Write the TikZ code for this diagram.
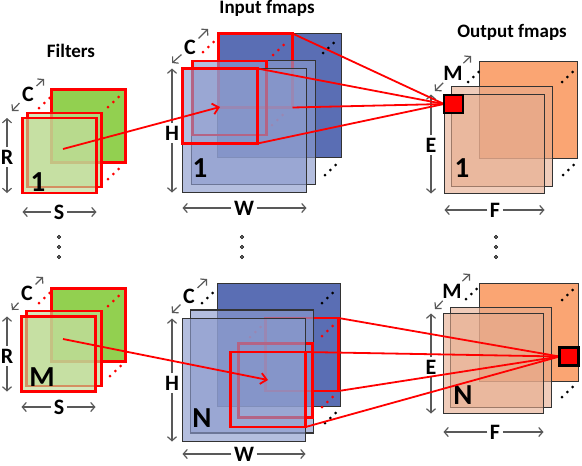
\documentclass[tikz,border=0pt]{standalone}
\usepackage{fontspec}
\setmainfont{Carlito}
\usepackage{tikz}
\usetikzlibrary{arrows.meta}
\definecolor{filtgreen}{RGB}{146,208,80}
\definecolor{filtlight}{RGB}{190,220,150}
\definecolor{inblue}{RGB}{90,110,180}
\definecolor{inlight}{RGB}{140,155,205}
\definecolor{outorange}{RGB}{250,165,115}
\definecolor{outlight}{RGB}{230,170,140}
\definecolor{dimgray}{RGB}{89,89,89}
\newcommand{\fmapdots}[3]{\foreach \k in {0,1,2} \fill[#1] (#2+5.3*\k,#3-5*\k) circle (1.5);}

\begin{document}
\begin{tikzpicture}[x=1pt, y=-1pt,
	sq/.style={inner sep=0pt, outer sep=0pt},
	filtback/.style={sq, draw=red, line width=2.2pt, fill=filtgreen},
	filt/.style={sq, draw=red, line width=2.2pt, fill=filtlight, fill opacity=0.65},
	map/.style={sq, draw=black!80, line width=1.2pt},
	redbox/.style={sq, draw=red, line width=2.2pt},
	pix/.style={sq, draw=black, line width=2.5pt, fill=red},
	conn/.style={red, line width=1.8pt},
	dim/.style={dimgray, line width=1.2pt, -{Straight Barb[length=4pt,width=9pt]}},
	dimlbl/.style={font=\fontsize{22}{22}\selectfont\bfseries, inner sep=2.5pt},
	title/.style={font=\fontsize{19}{19}\selectfont\bfseries, anchor=base},
	idx/.style={font=\fontsize{29}{29}\selectfont\bfseries},
	vdot/.style={draw=black, fill=black!55, line width=0.6pt}]
	\useasboundingbox (0,0) rectangle (582,466);
	%
	\node[title] (tFilt) at (71,57) {Filters};
	\node[title] (tIn) at (267,13.5) {Input fmaps};
	\node[title] (tOut) at (512,37) {Output fmaps};
	%
	% filters, first
	\node[filtback, minimum width=74, minimum height=73] (fBackA) at (88.5,126) {};
	\fmapdots{red}{39}{108}
	\fmapdots{red}{108}{107}
	\fmapdots{red}{108}{179}
	\node[filt, minimum width=74, minimum height=74] (fMidA) at (64.5,150) {};
	\node[filt, minimum width=74, minimum height=75] (fFrontA) at (59.5,155.5) {};
	\node[idx] (fIdxA) at (38,182) {1};
	% filters, last
	\node[filtback, minimum width=74, minimum height=73] (fBackB) at (88.5,325) {};
	\fmapdots{red}{39}{303}
	\fmapdots{red}{108}{306}
	\fmapdots{red}{110}{376}
	\node[filt, minimum width=75, minimum height=75] (fMidB) at (64,348.5) {};
	\node[filt, minimum width=74, minimum height=75] (fFrontB) at (58.5,354) {};
	\node[idx] (fIdxB) at (42,377) {M};
	%
	% input fmaps, first
	\node[map, fill=inblue, minimum size=124] (iBackA) at (279.5,95.5) {};
	\node[redbox, minimum size=74] (iRedBackA) at (255.5,70.5) {};
	\fmapdots{red}{203}{52}
	\fmapdots{red}{273}{55}
	\fmapdots{black}{323}{53}
	\fmapdots{black}{325}{175}
	\fmapdots{red}{272}{125}
	\node[map, fill=inlight, fill opacity=0.65, minimum size=124] (iMidA) at (253.5,122.5) {};
	\node[redbox, minimum size=74] (iRedMidA) at (229.5,98) {};
	\node[map, fill=inlight, fill opacity=0.65, minimum size=124] (iFrontA) at (244.5,130.5) {};
	\node[redbox, minimum size=75] (iRedFrontA) at (220,106) {};
	\node[idx] (iIdxA) at (200,168) {1};
	% input fmaps, last
	\node[map, fill=inblue, minimum size=123] (iBackB) at (279,345) {};
	\node[redbox, minimum size=73] (iRedBackB) at (302,354.5) {};
	\fmapdots{black}{202}{303}
	\fmapdots{black}{322}{303}
	\fmapdots{red}{322}{336}
	\fmapdots{red}{322}{407}
	\fmapdots{black}{325}{423}
	\fmapdots{red}{250}{337}
	\node[map, fill=inlight, fill opacity=0.65, minimum size=123] (iMidB) at (252,371.5) {};
	\node[redbox, minimum size=74] (iRedMidB) at (275.5,380.5) {};
	\node[map, fill=inlight, fill opacity=0.65, minimum size=123] (iFrontB) at (244,380) {};
	\node[redbox, minimum size=75] (iRedFrontB) at (268,389.5) {};
	\node[idx] (iIdxB) at (202,418) {N};
	%
	% output fmaps, first
	\node[map, fill=outorange, minimum width=98, minimum height=97] (oBackA) at (528.5,110) {};
	\fmapdots{black}{468}{82}
	\fmapdots{black}{562}{82}
	\fmapdots{black}{563}{175}
	\node[map, fill=outlight, fill opacity=0.6, minimum width=101, minimum height=100] (oMidA) at (502,136.5) {};
	\node[map, fill=outlight, fill opacity=0.6, minimum width=100, minimum height=99] (oFrontA) at (494.5,144) {};
	\node[idx] (oIdxA) at (462,168) {1};
	% output fmaps, last
	\node[map, fill=outorange, minimum width=99, minimum height=98] (oBackB) at (529,332.5) {};
	\fmapdots{black}{466}{299}
	\fmapdots{black}{562}{300}
	\fmapdots{black}{562}{397}
	\node[map, fill=outlight, fill opacity=0.6, minimum width=101, minimum height=100] (oMidB) at (501,357.5) {};
	\node[map, fill=outlight, fill opacity=0.6, minimum width=100, minimum height=100] (oFrontB) at (493.5,363.5) {};
	\node[idx] (oIdxB) at (463,395) {N};
	%
	% vertical dots
	\foreach \y in {237,247,257} {
		\filldraw[vdot] (59,\y) circle (1.7);
		\filldraw[vdot] (242,\y) circle (1.7);
		\filldraw[vdot] (496,\y) circle (1.7);
	}
	%
	% dimensions
	\node[dimlbl] (fCA) at (28,94) {C};
	\draw[dim] (fCA) -- ++(16,-15);
	\draw[dim] (fCA) -- ++(-16,17);
	\node[dimlbl] (fRA) at (7,157) {R};
	\draw[dim] (fRA) -- (fRA |- fFrontA.north);
	\draw[dim] (fRA) -- (fRA |- fFrontA.south);
	\node[dimlbl] (fSA) at (59,212) {S};
	\draw[dim] (fSA) -- (fSA -| fFrontA.west);
	\draw[dim] (fSA) -- (fSA -| fFrontA.east);
	%
	\node[dimlbl] (fCB) at (27,293) {C};
	\draw[dim] (fCB) -- ++(16,-16);
	\draw[dim] (fCB) -- ++(-15,17);
	\node[dimlbl] (fRB) at (7,356) {R};
	\draw[dim] (fRB) -- (fRB |- fFrontB.north);
	\draw[dim] (fRB) -- (fRB |- fFrontB.south);
	\node[dimlbl] (fSB) at (59,407) {S};
	\draw[dim] (fSB) -- (fSB -| fFrontB.west);
	\draw[dim] (fSB) -- (fSB -| fFrontB.east);
	%
	\node[dimlbl] (iCA) at (190,47) {C};
	\draw[dim] (iCA) -- ++(18,-18);
	\draw[dim] (iCA) -- ++(-18,16);
	\node[dimlbl] (iHA) at (172,133) {H};
	\draw[dim] (iHA) -- (iHA |- iFrontA.north);
	\draw[dim] (iHA) -- (iHA |- iFrontA.south);
	\node[dimlbl] (iWA) at (244,208) {W};
	\draw[dim] (iWA) -- (iWA -| iFrontA.west);
	\draw[dim] (iWA) -- (iWA -| iFrontA.east);
	%
	\node[dimlbl] (iCB) at (189,296) {C};
	\draw[dim] (iCB) -- ++(18,-17);
	\draw[dim] (iCB) -- ++(-17,17);
	\node[dimlbl] (iHB) at (172,383) {H};
	\draw[dim] (iHB) -- (iHB |- iFrontB.north);
	\draw[dim] (iHB) -- (iHB |- iFrontB.south);
	\node[dimlbl] (iWB) at (244,454) {W};
	\draw[dim] (iWB) -- (iWB -| iFrontB.west);
	\draw[dim] (iWB) -- (iWB -| iFrontB.east);
	%
	\node[dimlbl] (oMA) at (453,73) {M};
	\draw[dim] (oMA) -- ++(18,-17);
	\draw[dim] (oMA) -- ++(-18,18);
	\node[dimlbl] (oEA) at (431,145) {E};
	\draw[dim] (oEA) -- (oEA |- oFrontA.north);
	\draw[dim] (oEA) -- (oEA |- oFrontA.south);
	\node[dimlbl] (oFA) at (495,210) {F};
	\draw[dim] (oFA) -- (oFA -| oFrontA.west);
	\draw[dim] (oFA) -- (oFA -| oFrontA.east);
	%
	\node[dimlbl] (oMB) at (452,291) {M};
	\draw[dim] (oMB) -- ++(18,-17);
	\draw[dim] (oMB) -- ++(-17,18);
	\node[dimlbl] (oEB) at (431,367) {E};
	\draw[dim] (oEB) -- (oEB |- oFrontB.north);
	\draw[dim] (oEB) -- (oEB |- oFrontB.south);
	\node[dimlbl] (oFB) at (495,432) {F};
	\draw[dim] (oFB) -- (oFB -| oFrontB.west);
	\draw[dim] (oFB) -- (oFB -| oFrontB.east);
	%
	% connections
	\node[pix, minimum width=19, minimum height=18] (oPixA) at (453.5,104) {};
	\node[pix, minimum width=19, minimum height=18] (oPixB) at (569,356.5) {};
	\coordinate (fSrcA) at (63,149);
	\coordinate (iDstA) at (220,107);
	\coordinate (fSrcB) at (63,339);
	\coordinate (iDstB) at (268,380);
	\draw[conn, -{Straight Barb[length=6pt,width=11pt]}] (fSrcA) -- (iDstA);
	\draw[conn, -{Straight Barb[length=6pt,width=11pt]}] (fSrcB) -- (iDstB);
	\draw[conn] (iRedBackA.north east) -- (oPixA.west);
	\draw[conn] (iRedFrontA.north east) -- (oPixA.west);
	\draw[conn] (iRedBackA.south east) -- (oPixA.west);
	\draw[conn] (iRedFrontA.south east) -- (oPixA.west);
	\draw[conn] (iRedBackB.north east) -- (oPixB.west);
	\draw[conn] (iRedFrontB.north east) -- (oPixB.west);
	\draw[conn] (iRedBackB.south east) -- (oPixB.west);
	\draw[conn] (iRedFrontB.south east) -- (oPixB.west);
	\node[pix, minimum width=19, minimum height=18] at (oPixA) {};
	\node[pix, minimum width=19, minimum height=18] at (oPixB) {};
\end{tikzpicture}
\end{document}
